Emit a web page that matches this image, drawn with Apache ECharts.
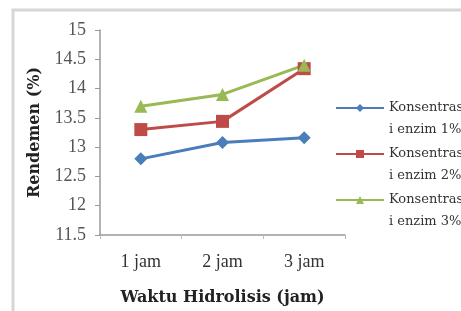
<!DOCTYPE html>
<html>
<head>
<meta charset="utf-8">
<script src="https://cdn.jsdelivr.net/npm/echarts@6/dist/echarts.min.js"></script>
<style>
  html, body { margin: 0; padding: 0; background: #fff; }
  #chart { width: 461px; height: 311px; }
</style>
</head>
<body>
<div id="chart"></div>
<script>
// data
let waktu = ['1 jam', '2 jam', '3 jam'];
let enzim1 = [12.8, 13.08, 13.16];
let enzim2 = [13.3, 13.44, 14.34];
let enzim3 = [13.7, 13.9, 14.4];
let namaSeri = ['Konsentras\ni enzim 1%', 'Konsentras\ni enzim 2%', 'Konsentras\ni enzim 3%'];

let myChart = echarts.init(document.getElementById('chart'));

const serif = '"Liberation Serif", "Times New Roman", serif';
const wide = '"DejaVu Serif", serif';

option = {
    animation: false,
    graphic: [
        {
            type: 'rect',
            shape: { x: 13, y: 10, width: 600, height: 400 },
            style: { fill: 'none', stroke: '#d6d6d6', lineWidth: 3 }
        }
    ],
    grid: { left: 100, top: 30, right: 116, bottom: 68 },
    legend: {
        orient: 'vertical',
        left: 330,
        top: 70,
        itemWidth: 48,
        itemHeight: 10,
        itemGap: -20,
        data: namaSeri,
        // blank first line so the icon sits beside "Konsentras"
        formatter: function (name) { return '\n' + name; },
        textStyle: {
            fontFamily: wide,
            fontSize: 13,
            color: '#333',
            lineHeight: 22
        }
    },
    xAxis: {
        type: 'category',
        data: waktu,
        boundaryGap: true,
        name: 'Waktu Hidrolisis (jam)',
        nameLocation: 'middle',
        nameGap: 55,
        nameTextStyle: { fontFamily: wide, fontWeight: 'bold', fontSize: 16, color: '#222' },
        axisLine: { lineStyle: { color: '#999', width: 1.5 } },
        axisTick: { show: true, length: 4, lineStyle: { color: '#bbb' } },
        axisLabel: { fontFamily: serif, fontSize: 18, color: '#333', margin: 18 }
    },
    yAxis: {
        type: 'value',
        min: 11.5,
        max: 15,
        interval: 0.5,
        name: 'Rendemen (%)',
        nameLocation: 'middle',
        nameRotate: 90,
        nameGap: 57,
        nameTextStyle: { fontFamily: wide, fontWeight: 'bold', fontSize: 16, color: '#222' },
        splitLine: { show: false },
        axisLine: { show: true, lineStyle: { color: '#999', width: 1.5 } },
        axisTick: { show: true, length: 5, lineStyle: { color: '#999' } },
        axisLabel: { fontFamily: serif, fontSize: 18, color: '#555', margin: 14 }
    },
    series: [
        {
            name: namaSeri[0],
            type: 'line',
            data: enzim1,
            symbol: 'diamond',
            symbolSize: 13,
            color: '#4a7ebb',
            lineStyle: { width: 3 }
        },
        {
            name: namaSeri[1],
            type: 'line',
            data: enzim2,
            symbol: 'rect',
            symbolSize: 13,
            color: '#be4b48',
            lineStyle: { width: 3 }
        },
        {
            name: namaSeri[2],
            type: 'line',
            data: enzim3,
            symbol: 'triangle',
            symbolSize: 13,
            color: '#98b954',
            lineStyle: { width: 3 }
        }
    ]
};
myChart.setOption(option);
</script>
</body>
</html>
